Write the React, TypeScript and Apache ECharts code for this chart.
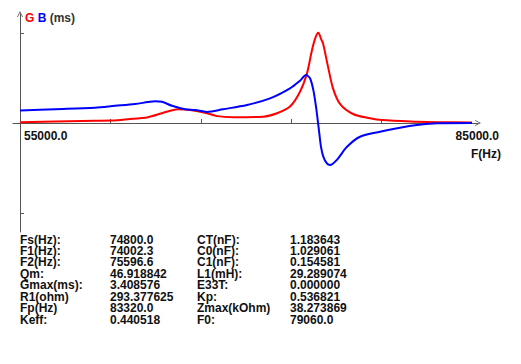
import React, { useEffect, useRef } from "react";
import * as echarts from "echarts";

// Frequency sweep (Hz) and conductance G (ms)
const freqG = [55000, 59115, 61106, 62168, 63496, 64425, 65487, 66283, 67412, 68075, 69137, 71128, 72058, 72920, 73584, 74049, 74381, 74600, 74800, 75000, 75111, 75443, 75775, 76239, 77102, 78230, 79027, 81350, 82677, 85000];
const valG = [0.03, 0.08, 0.09, 0.14, 0.22, 0.37, 0.52, 0.49, 0.37, 0.26, 0.22, 0.24, 0.37, 0.62, 1.18, 1.88, 2.76, 3.21, 3.41, 3.15, 3.01, 2.13, 1.31, 0.72, 0.34, 0.18, 0.11, 0.05, 0.03, 0.02];

// Frequency sweep (Hz) and susceptance B (ms)
const freqB = [55000, 57323, 59978, 61305, 62633, 63496, 63960, 64425, 65088, 65951, 66615, 67412, 68473, 70066, 71593, 72920, 73584, 73982, 74248, 74467, 74646, 74759, 74865, 74978, 75131, 75356, 75575, 76020, 76704, 77566, 78894, 80221, 81350, 82677, 85000];
const valB = [0.47, 0.52, 0.58, 0.65, 0.72, 0.79, 0.82, 0.8, 0.65, 0.52, 0.49, 0.42, 0.52, 0.68, 0.93, 1.31, 1.6, 1.81, 1.69, 1.25, 0.62, 0.11, -0.39, -0.9, -1.27, -1.52, -1.59, -1.4, -0.9, -0.52, -0.33, -0.18, -0.08, -0.01, 0.0];

const xTicks = [61000, 67000, 73000, 79000];
const xStart = 55000;
const xEnd = 85000;
const yTicks = [-3.4, 3.4];

const paramNames1 = ["Fs(Hz):", "F1(Hz):", "F2(Hz):", "Qm:", "Gmax(ms):", "R1(ohm)", "Fp(Hz)", "Keff:"];
const paramValues1 = ["74800.0", "74002.3", "75596.6", "46.918842", "3.408576", "293.377625", "83320.0", "0.440518"];
const paramNames2 = ["CT(nF):", "C0(nF):", "C1(nF):", "L1(mH):", "E33T:", "Kp:", "Zmax(kOhm)", "F0:"];
const paramValues2 = ["1.183643", "1.029061", "0.154581", "29.289074", "0.000000", "0.536821", "38.273869", "79060.0"];

const FONT = "'Liberation Sans', Arial, sans-serif";
const CHEVRON = "path://M0,10 L5,0 L10,10 L8.6,10 L5,2.8 L1.4,10 Z";

export default function App() {
  const ref = useRef<HTMLDivElement>(null);
  useEffect(() => {
    if (!ref.current) return;
    const chart = echarts.init(ref.current, null, { renderer: "svg" });
    const textStyle = { fontFamily: FONT, fontWeight: "bold", fontSize: 12, fill: "#111" };
    const cols = [
      { x: 20, arr: paramNames1 },
      { x: 110, arr: paramValues1 },
      { x: 197, arr: paramNames2 },
      { x: 290, arr: paramValues2 },
    ];
    const tableTexts: any[] = [];
    cols.forEach((c) =>
      c.arr.forEach((t, i) =>
        tableTexts.push({
          type: "text",
          x: c.x,
          y: 239.5 + i * 11.43,
          style: { ...textStyle, text: t, lineHeight: 11, verticalAlign: "middle", align: "left" },
        })
      )
    );
    const xMin = 55000 - 7 * (30000 / 452);
    const xMax = 85000 + 6 * (30000 / 452);
    chart.setOption({
      animation: false,
      backgroundColor: "#ffffff",
      grid: { left: 13, right: 43, top: 14, bottom: 132 },
      xAxis: {
        type: "value",
        min: xMin,
        max: xMax,
        name: "F(Hz)",
        nameLocation: "end",
        nameGap: -7,
        nameTextStyle: {
          fontFamily: FONT,
          fontWeight: "bold",
          fontSize: 12,
          color: "#111",
          align: "left",
          verticalAlign: "top",
          padding: [25, 0, 0, 0],
        },
        axisLine: {
          onZero: true,
          symbol: ["none", CHEVRON],
          symbolSize: [10, 6],
          lineStyle: { color: "#555", width: 1 },
        },
        axisTick: { show: true, inside: true, length: 4, customValues: xTicks, lineStyle: { color: "#555" } },
        axisLabel: { show: false },
        splitLine: { show: false },
      },
      yAxis: {
        type: "value",
        min: -4.118,
        max: 4.118,
        offset: -7,
        name: "{g|G} {b|B} {m|(ms)}",
        nameLocation: "end",
        nameGap: -10,
        nameTextStyle: {
          align: "left",
          padding: [0, 0, 0, 5],
          rich: {
            g: { fontFamily: FONT, fontWeight: "bold", fontSize: 12, color: "#ff0000" },
            b: { fontFamily: FONT, fontWeight: "bold", fontSize: 12, color: "#0000ff" },
            m: { fontFamily: FONT, fontWeight: "bold", fontSize: 12, color: "#333" },
          },
        },
        axisLine: {
          show: true,
          onZero: false,
          symbol: ["none", CHEVRON],
          symbolSize: [10, 6],
          lineStyle: { color: "#555", width: 1 },
        },
        axisTick: { show: true, inside: true, length: 4, customValues: yTicks, lineStyle: { color: "#555" } },
        axisLabel: { show: false },
        splitLine: { show: false },
      },
      series: [
        {
          type: "line",
          name: "G",
          data: freqG.map((f, i) => [f, valG[i]]),
          showSymbol: false,
          smooth: 0.3,
          lineStyle: { color: "#ff0000", width: 2 },
          itemStyle: { color: "#ff0000" },
        },
        {
          type: "line",
          name: "B",
          data: freqB.map((f, i) => [f, valB[i]]),
          showSymbol: false,
          smooth: 0.3,
          lineStyle: { color: "#0000ff", width: 2 },
          itemStyle: { color: "#0000ff" },
        },
      ],
      graphic: tableTexts,
    });
    const pStart = chart.convertToPixel({ xAxisIndex: 0, yAxisIndex: 0 }, [xStart, 0]) as number[];
    const pEnd = chart.convertToPixel({ xAxisIndex: 0, yAxisIndex: 0 }, [xEnd, 0]) as number[];
    chart.setOption({
      graphic: [
        ...tableTexts,
        {
          type: "text",
          x: pStart[0] + 4,
          y: pStart[1] + 13,
          style: { ...textStyle, text: xStart.toFixed(1), align: "left", verticalAlign: "middle" },
        },
        {
          type: "text",
          x: pEnd[0] + 27,
          y: pEnd[1] + 13,
          style: { ...textStyle, text: xEnd.toFixed(1), align: "right", verticalAlign: "middle" },
        },
      ],
    });
    return () => chart.dispose();
  }, []);
  return (
    <div
      ref={ref}
      style={{ position: "fixed", left: 0, top: 0, width: 521, height: 364, background: "#fff" }}
    />
  );
}
